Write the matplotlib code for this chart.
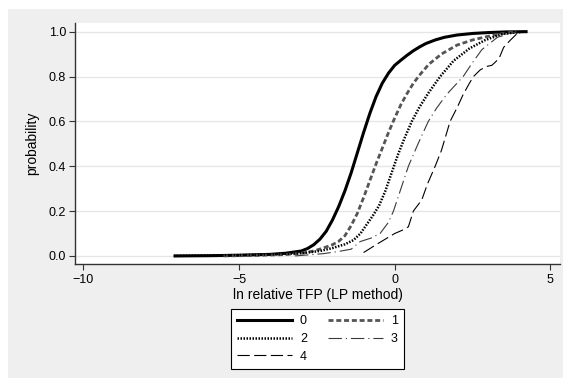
import matplotlib.pyplot as plt
from matplotlib.patches import Rectangle

# cumulative distribution of ln relative TFP, one curve per group
tfp_g0 = [-7.05, -6.0, -5.0, -4.0, -3.5, -3.0, -2.8, -2.6, -2.4, -2.2, -2.0, -1.8, -1.6,
          -1.4, -1.2, -1.0, -0.8, -0.6, -0.4, -0.2, 0.0, 0.2, 0.4, 0.6, 0.8, 1.0, 1.3,
          1.6, 2.0, 2.5, 3.0, 3.6, 4.22]
prob_g0 = [0.0, 0.001, 0.003, 0.007, 0.012, 0.022, 0.033, 0.05, 0.075, 0.11, 0.16, 0.22, 0.29,
           0.37, 0.46, 0.55, 0.635, 0.71, 0.77, 0.815, 0.85, 0.873, 0.895, 0.915, 0.932, 0.947, 0.963,
           0.975, 0.985, 0.992, 0.996, 0.999, 1.0]

tfp_g1 = [-5.5, -4.5, -3.5, -3.0, -2.6, -2.3, -2.0, -1.8, -1.6, -1.4, -1.2, -1.0, -0.8,
          -0.6, -0.4, -0.2, 0.0, 0.2, 0.4, 0.6, 0.82, 1.1, 1.5, 2.0, 2.5, 2.96, 3.4, 3.9]
prob_g1 = [0.0, 0.002, 0.006, 0.012, 0.022, 0.035, 0.05, 0.065, 0.09, 0.135, 0.19, 0.26, 0.335,
           0.41, 0.48, 0.55, 0.615, 0.675, 0.725, 0.77, 0.81, 0.855, 0.90, 0.94, 0.963, 0.978, 0.99, 1.0]

tfp_g2 = [-7.1, -6.0, -5.0, -4.0, -3.0, -2.4, -2.0, -1.6, -1.33, -1.1, -0.9, -0.7, -0.5,
          -0.3, -0.1, 0.1, 0.3, 0.55, 0.8, 1.1, 1.46, 1.89, 2.4, 2.9, 3.45, 4.15]
prob_g2 = [0.0, 0.002, 0.004, 0.007, 0.012, 0.022, 0.035, 0.052, 0.07, 0.10, 0.14, 0.18, 0.225,
           0.29, 0.37, 0.45, 0.52, 0.60, 0.665, 0.73, 0.80, 0.87, 0.925, 0.962, 0.99, 1.0]

tfp_g3 = [-3.2, -2.3, -1.8, -1.4, -1.11, -0.75, -0.47, -0.2, -0.04, 0.2, 0.44, 0.75,
          1.08, 1.35, 1.67, 2.0, 2.2, 2.47, 2.8, 3.3, 3.92]
prob_g3 = [0.0, 0.01, 0.02, 0.03, 0.064, 0.08, 0.10, 0.15, 0.20, 0.30, 0.40, 0.50,
           0.60, 0.66, 0.72, 0.77, 0.80, 0.856, 0.92, 0.975, 1.0]

tfp_g4 = [-1.0, -0.6, -0.3, 0.0, 0.25, 0.44, 0.6, 0.87, 1.05, 1.3, 1.5, 1.78, 2.0,
          2.2, 2.4, 2.53, 2.75, 2.96, 3.12, 3.2, 3.35, 3.5, 3.7, 3.92, 4.0]
prob_g4 = [0.015, 0.05, 0.075, 0.10, 0.115, 0.13, 0.20, 0.25, 0.32, 0.40, 0.47, 0.60, 0.66,
           0.72, 0.77, 0.80, 0.83, 0.845, 0.85, 0.86, 0.88, 0.93, 0.96, 0.99, 1.0]

group_labels = ['0', '1', '2', '3', '4']
x_ticks = [-10, -5, 0, 5]
y_ticks = [0.0, 0.2, 0.4, 0.6, 0.8, 1.0]

plt.rcParams['font.family'] = ['Liberation Sans', 'DejaVu Sans']
plt.rcParams['font.size'] = 9

fig = plt.figure(figsize=(5.63, 3.78), dpi=100)
fig.patch.set_facecolor('white')
fig.patches.append(Rectangle((8 / 563, 0), 1, 369 / 378, transform=fig.transFigure,
                             facecolor='#efefef', edgecolor='none', zorder=-10))

ax = fig.add_axes([75 / 563, 114 / 378, 485 / 563, 241.3 / 378])
ax.set_facecolor('white')

styles = [
    dict(color='black', lw=2.2, linestyle='-'),
    dict(color='#555555', lw=2.0, linestyle=(0, (1.8, 1.0))),
    dict(color='black', lw=1.8, linestyle=(0, (0.6, 0.6))),
    dict(color='#3a3a3a', lw=0.8, linestyle=(0, (12, 3.6, 1, 3.6))),
    dict(color='black', lw=0.8, linestyle=(0, (11, 4))),
]
series = [(tfp_g0, prob_g0), (tfp_g1, prob_g1), (tfp_g2, prob_g2),
          (tfp_g3, prob_g3), (tfp_g4, prob_g4)]

lines = []
for (xs, ys), st, lab in zip(series, styles, group_labels):
    ln, = ax.plot(xs, ys, label=lab, **st)
    lines.append(ln)

ax.set_xlim(-10.27, 5.31)
ax.set_ylim(-0.036, 1.04)
ax.set_xticks(x_ticks)
ax.set_yticks(y_ticks)
ax.set_yticklabels(['%.1f' % v for v in y_ticks])
ax.yaxis.grid(True, color='#e6e6e6', lw=1.0)
ax.set_axisbelow(True)

for side in ['top', 'right']:
    ax.spines[side].set_visible(False)
for side in ['left', 'bottom']:
    ax.spines[side].set_color('#333333')
    ax.spines[side].set_linewidth(1.0)
ax.tick_params(axis='both', direction='out', length=4, width=0.8,
               color='#333333', labelsize=9)
ax.tick_params(axis='x', pad=3)
ax.tick_params(axis='y', pad=2.5)

ax.set_xlabel('ln relative TFP (LP method)', fontsize=10, labelpad=1.5)
ax.set_ylabel('probability', fontsize=10, labelpad=7)

# legend: column-major fill -> 0,2,4 on the left, 1,3 on the right
order = [0, 2, 4, 1, 3]
leg = fig.legend([lines[i] for i in order], [group_labels[i] for i in order],
                 loc='upper center', bbox_to_anchor=(317.5 / 563, 0.182), ncol=2,
                 fontsize=9, handlelength=4.4, handletextpad=0.6, columnspacing=1.7,
                 labelspacing=0.45, borderpad=0.5, borderaxespad=0,
                 fancybox=False, framealpha=1)
leg.get_frame().set_edgecolor('black')
leg.get_frame().set_linewidth(0.8)

fig.savefig('out.png', dpi=100, facecolor=fig.get_facecolor())
